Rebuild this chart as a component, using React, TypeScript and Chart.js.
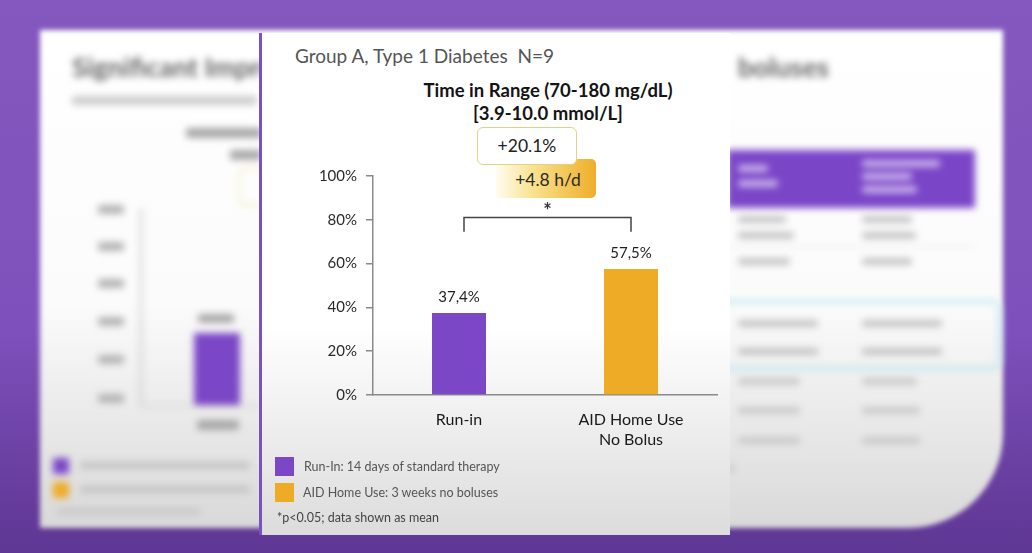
import React, { useEffect, useRef } from "react";
import { Chart, registerables } from "chart.js";

Chart.register(...registerables);

// ---- data ----
const categories: string[][] = [["Run-in"], ["AID Home Use", "No Bolus"]];
const timeInRange: number[] = [37.4, 57.5];
const valueLabels: string[] = ["37,4%", "57,5%"];
const barColors: string[] = ["#7b47c6", "#eeab26"];
const yTickValues: number[] = [0, 20, 40, 60, 80, 100];
const legendLabels: string[] = [
  "Run-In: 14 days of standard therapy",
  "AID Home Use: 3 weeks no boluses",
];
const bracketLevels: number[] = [81, 74.5]; // top bar, foot ends (in % units)
const asteriskLevel = 85.5;
const subtitle = "Group A, Type 1 Diabetes  N=9";
const titleLines: string[] = ["Time in Range (70-180 mg/dL)", "[3.9-10.0 mmol/L]"];
const diffPercent = "+20.1%";
const diffHours = "+4.8 h/d";
const footnote = "*p<0.05; data shown as mean";

const FONT = "Lato, 'Open Sans', sans-serif";

const overlayPlugin = {
  id: "overlay",
  afterDatasetsDraw(chart: any) {
    const ctx = chart.ctx;
    const meta = chart.getDatasetMeta(0);
    const xs = chart.scales.x;
    const ys = chart.scales.y;
    ctx.save();
    ctx.font = `15px ${FONT}`;
    ctx.fillStyle = "#1e1e1e";
    ctx.textAlign = "center";
    ctx.textBaseline = "middle";
    meta.data.forEach((bar: any, i: number) => {
      ctx.fillText(valueLabels[i], bar.x, bar.y - 16);
    });
    // significance bracket
    const x0 = xs.getPixelForValue(0) + 5;
    const x1 = xs.getPixelForValue(1);
    const yTop = ys.getPixelForValue(bracketLevels[0]);
    const yFoot = ys.getPixelForValue(bracketLevels[1]);
    ctx.strokeStyle = "#444";
    ctx.lineWidth = 1.5;
    ctx.beginPath();
    ctx.moveTo(x0, yFoot);
    ctx.lineTo(x0, yTop);
    ctx.lineTo(x1, yTop);
    ctx.lineTo(x1, yFoot);
    ctx.stroke();
    ctx.font = `bold 20px ${FONT}`;
    ctx.fillStyle = "#333";
    ctx.fillText("*", (x0 + x1) / 2, ys.getPixelForValue(asteriskLevel) + 4);
    ctx.restore();
  },
};

function BarChart() {
  const ref = useRef<HTMLCanvasElement | null>(null);
  useEffect(() => {
    if (!ref.current) return;
    const chart = new Chart(ref.current, {
      type: "bar",
      data: {
        labels: categories as any,
        datasets: [
          {
            data: timeInRange,
            backgroundColor: barColors,
            borderWidth: 0,
            barPercentage: 0.314,
            categoryPercentage: 1,
          },
        ],
      },
      options: {
        animation: false,
        responsive: false,
        devicePixelRatio: 1,
        layout: { padding: { top: 26, right: 13, bottom: 0, left: 0 } },
        plugins: {
          legend: { display: false },
          tooltip: { enabled: false },
          title: { display: false },
        },
        scales: {
          x: {
            offset: true,
            grid: { display: false, drawTicks: false },
            border: { display: true, color: "#8a8a8a", width: 1.5 },
            ticks: {
              color: "#1a1a1a",
              font: { family: FONT, size: 16, lineHeight: 1.3 },
              padding: 14,
              maxRotation: 0,
              autoSkip: false,
            },
            afterFit: (s: any) => {
              s.height = 65;
            },
          },
          y: {
            min: 0,
            max: 100,
            afterBuildTicks: (s: any) => {
              s.ticks = yTickValues.map((v) => ({ value: v }));
            },
            grid: {
              drawOnChartArea: false,
              drawTicks: true,
              tickLength: 7,
              color: "#8a8a8a",
              lineWidth: 1.5,
            },
            border: { display: true, color: "#8a8a8a", width: 1.5 },
            ticks: {
              color: "#2a2a2a",
              font: { family: FONT, size: 15 },
              padding: 9,
              callback: (v: any) => `${v}%`,
            },
            afterFit: (s: any) => {
              s.width = 73;
            },
          },
        },
      },
      plugins: [overlayPlugin],
    });
    return () => chart.destroy();
  }, []);
  return (
    <canvas
      ref={ref}
      width={430}
      height={310}
      style={{ position: "absolute", left: 300, top: 150, width: 430, height: 310 }}
    />
  );
}

const blur = (px: number): React.CSSProperties => ({ filter: `blur(${px}px)` });

function Background() {
  const greyBar = (l: number, t: number, w: number, h: number, c = "#b0b0b0") => (
    <div style={{ position: "absolute", left: l, top: t, width: w, height: h, background: c, borderRadius: 3 }} />
  );
  return (
    <>
      {/* blurred slide behind */}
      <div
        style={{
          position: "absolute",
          left: 40,
          top: 30,
          width: 963,
          height: 498,
          background: "linear-gradient(180deg, #ffffff 0%, #fbfbfb 55%, #d9d9d9 100%)",
          borderBottomRightRadius: 95,
          ...blur(2.5),
        }}
      />
      <div style={{ position: "absolute", left: 0, top: 0, width: 1032, height: 553, ...blur(3.5) }}>
        <div style={{ position: "absolute", left: 72, top: 50, font: `bold 27px ${FONT}`, color: "#666", whiteSpace: "nowrap" }}>
          Significant Improvement
        </div>
        <div style={{ position: "absolute", left: 738, top: 50, font: `bold 27px ${FONT}`, color: "#666", whiteSpace: "nowrap" }}>
          boluses
        </div>
        {greyBar(72, 96, 185, 9, "#cdcdcd")}
        {greyBar(186, 128, 76, 10, "#a8a8a8")}
        {greyBar(230, 150, 32, 10, "#a8a8a8")}
        <div style={{ position: "absolute", left: 238, top: 168, width: 30, height: 34, border: "2px solid #f3eec0", borderRadius: 6 }} />
        {/* left blurred chart */}
        <div style={{ position: "absolute", left: 140, top: 208, width: 2, height: 198, background: "#c4c4c4" }} />
        <div style={{ position: "absolute", left: 140, top: 405, width: 122, height: 2, background: "#d4d4d4" }} />
        {[210, 247, 284, 322, 360, 399].map((t, i) =>
          <React.Fragment key={i}>{greyBar(98, t - 5, 26, 9, "#b4b4b4")}</React.Fragment>
        )}
        <div style={{ position: "absolute", left: 194, top: 333, width: 46, height: 72, background: "#7b47c6" }} />
        {greyBar(198, 314, 36, 9, "#a8a8a8")}
        {greyBar(197, 420, 42, 10, "#a8a8a8")}
        <div style={{ position: "absolute", left: 53, top: 458, width: 16, height: 16, background: "#7b47c6" }} />
        <div style={{ position: "absolute", left: 53, top: 482, width: 16, height: 16, background: "#eeab26" }} />
        {greyBar(80, 462, 170, 7, "#c4c4c4")}
        {greyBar(80, 486, 170, 7, "#c4c4c4")}
        {greyBar(56, 508, 145, 7, "#cacaca")}
        {/* right blurred table */}
        <div style={{ position: "absolute", left: 727, top: 150, width: 248, height: 58, background: "#7b45c8" }} />
        {greyBar(738, 165, 30, 7, "#c9b4ea")}
        {greyBar(738, 180, 40, 7, "#c9b4ea")}
        {greyBar(862, 160, 78, 7, "#c9b4ea")}
        {greyBar(862, 173, 50, 7, "#c9b4ea")}
        {greyBar(862, 186, 55, 7, "#c9b4ea")}
        {greyBar(738, 216, 48, 7, "#c4c4c4")}
        {greyBar(862, 216, 50, 7, "#c4c4c4")}
        {greyBar(738, 232, 56, 7, "#c4c4c4")}
        {greyBar(862, 232, 54, 7, "#c4c4c4")}
        <div style={{ position: "absolute", left: 727, top: 246, width: 248, height: 1, background: "#e2e2e2" }} />
        {greyBar(738, 258, 52, 7, "#c4c4c4")}
        {greyBar(862, 258, 50, 7, "#c4c4c4")}
        <div
          style={{
            position: "absolute",
            left: 712,
            top: 300,
            width: 283,
            height: 64,
            border: "3px solid #b6e6ee",
            borderRadius: 9,
          }}
        />
        {greyBar(738, 320, 80, 7, "#c4c4c4")}
        {greyBar(862, 320, 80, 7, "#c4c4c4")}
        {greyBar(738, 348, 80, 7, "#c4c4c4")}
        {greyBar(862, 348, 80, 7, "#c4c4c4")}
        {greyBar(738, 378, 62, 7, "#cacaca")}
        {greyBar(862, 378, 55, 7, "#cacaca")}
        {greyBar(738, 407, 62, 7, "#cacaca")}
        {greyBar(862, 407, 58, 7, "#cacaca")}
        {greyBar(738, 437, 62, 7, "#cacaca")}
        {greyBar(862, 437, 58, 7, "#cacaca")}
        {greyBar(727, 465, 8, 7, "#cacaca")}
      </div>
    </>
  );
}

export default function App() {
  return (
    <div
      style={{
        position: "fixed",
        left: 0,
        top: 0,
        width: 1032,
        height: 553,
        overflow: "hidden",
        background: "linear-gradient(180deg, #8558bf 0%, #7d50bb 60%, #5e3693 100%)",
        fontFamily: FONT,
      }}
    >
      <Background />
      {/* front panel */}
      <div
        style={{
          position: "absolute",
          left: 259,
          top: 33,
          width: 468,
          height: 502,
          background: "linear-gradient(180deg, #ffffff 0%, #ffffff 58%, #dcdcdc 100%)",
          borderLeft: "3px solid #7a52bc",
        }}
      />
      <div style={{ position: "absolute", left: 295, top: 44, fontSize: 19, color: "#555", whiteSpace: "pre" }}>
        {subtitle}
      </div>
      <div
        style={{
          position: "absolute",
          left: 348,
          top: 79,
          width: 400,
          textAlign: "center",
          fontSize: 18.5,
          fontWeight: 700,
          lineHeight: "23px",
          color: "#141414",
        }}
      >
        {titleLines.map((t, i) => (
          <div key={i}>{t}</div>
        ))}
      </div>
      <div
        style={{
          position: "absolute",
          left: 496,
          top: 159,
          width: 100,
          height: 39,
          borderRadius: "2px 5px 5px 2px",
          background: "linear-gradient(90deg, #fffdf0 0%, #f9e18c 38%, #efae2a 100%)",
          color: "#2a2a2a",
          fontSize: 17.5,
          lineHeight: "42px",
          textAlign: "center",
          boxSizing: "border-box",
          paddingLeft: 4,
        }}
      >
        {diffHours}
      </div>
      <div
        style={{
          position: "absolute",
          left: 477,
          top: 127,
          width: 100,
          height: 38,
          boxSizing: "border-box",
          border: "1.5px solid #ddd48a",
          borderRadius: 6,
          background: "#ffffff",
          color: "#222",
          fontSize: 17.5,
          lineHeight: "35px",
          textAlign: "center",
        }}
      >
        {diffPercent}
      </div>
      <BarChart />
      {legendLabels.map((l, i) => (
        <React.Fragment key={i}>
          <div
            style={{
              position: "absolute",
              left: 275,
              top: 457 + i * 26,
              width: 19,
              height: 19,
              background: barColors[i],
            }}
          />
          <div
            style={{
              position: "absolute",
              left: 304 - i,
              top: 458 + i * 26,
              fontSize: 12.5,
              lineHeight: "18px",
              color: "#555",
              whiteSpace: "nowrap",
            }}
          >
            {l}
          </div>
        </React.Fragment>
      ))}
      <div
        style={{
          position: "absolute",
          left: 277,
          top: 509,
          fontSize: 12.5,
          lineHeight: "18px",
          color: "#444",
          whiteSpace: "nowrap",
        }}
      >
        {footnote}
      </div>
    </div>
  );
}
